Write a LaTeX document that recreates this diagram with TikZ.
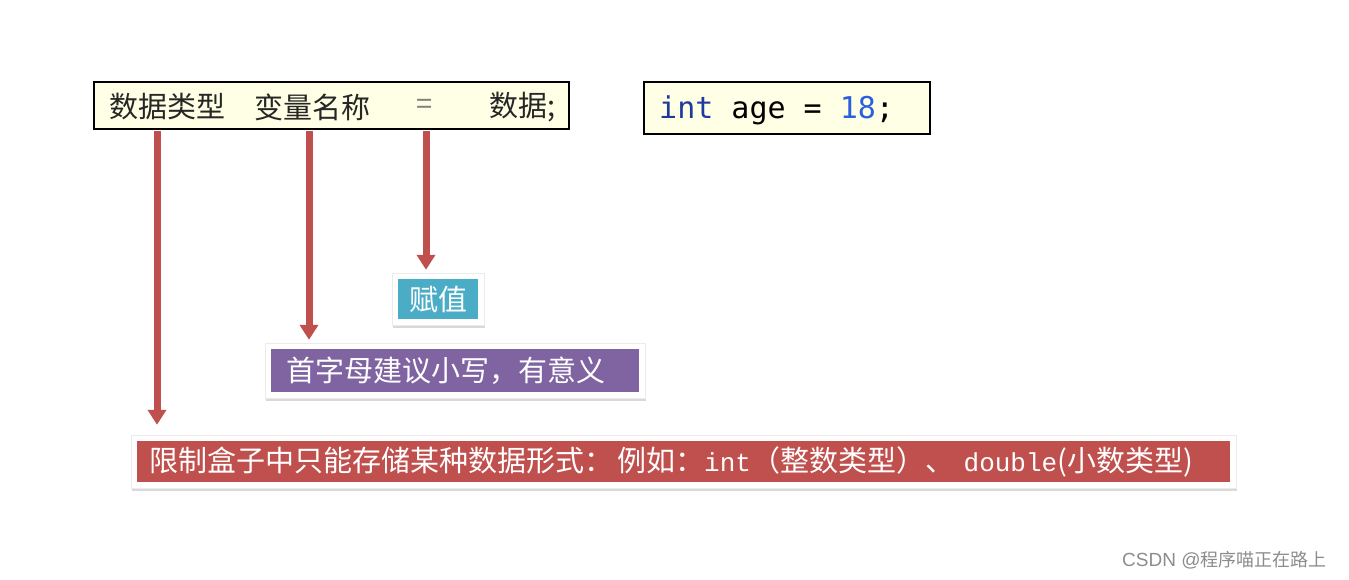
\documentclass[tikz,border=0pt]{standalone}
\usepackage{fontspec}
\setmainfont{Noto Sans CJK SC}
\newfontfamily\codefont{DejaVu Sans Mono}
\newfontfamily\latinfont{Liberation Mono}
\newfontfamily\arialfont{Liberation Sans}
\usetikzlibrary{arrows.meta,shadows,backgrounds,calc}
\definecolor{paper}{HTML}{FFFFE5}
\definecolor{arrowred}{HTML}{C0504D}
\definecolor{tagteal}{HTML}{4BACC6}
\definecolor{tagpurple}{HTML}{8064A2}
\definecolor{kwblue}{HTML}{1F3A9E}
\definecolor{numblue}{HTML}{2A5FE0}
\tikzstyle{codebox}=[draw=black, line width=2pt, fill=paper, inner sep=0pt]
\tikzstyle{word}=[font=\fontsize{29}{30}\selectfont, text=black!85, inner sep=0pt, anchor=west]
\tikzstyle{tag}=[text=white, font=\fontsize{29}{30}\selectfont, inner ysep=0pt, anchor=west, align=left]
\tikzstyle{arrow}=[draw=arrowred, line width=7pt, -{Triangle[length=15pt,width=18pt]}]
\newcommand{\lat}[1]{{\latinfont\fontsize{26}{30}\selectfont #1}}

\begin{document}
\begin{tikzpicture}[x=1pt,y=-1pt]
    \useasboundingbox (0,0) rectangle (1349,579);
    % the general form and the example
    \node[codebox, minimum width=475pt, minimum height=47pt] (syntax) at (331.5,105.5) {};
    \node[word] (dtype) at (109,107) {数据类型};
    \node[word] (vname) at (254,107) {变量名称};
    \node[word, text=black!50] (eq) at (416,107) {=};
    \node[word] (value) at (489,107) {数据;};
    \node[codebox, minimum width=286pt, minimum height=52pt] (example) at (787,108) {};
    \node[anchor=west, inner sep=0pt, font=\codefont\fontsize{30}{32}\selectfont] (code) at (659,110)
        {\textcolor{kwblue}{int} age = \textcolor{numblue}{18};};
    % the three notes
    \node[tag, fill=tagteal, inner xsep=11pt, text width=58pt, minimum height=40pt] (assign) at (398,299) {赋值};
    \node[tag, fill=tagpurple, inner xsep=15pt, text width=338pt, minimum height=43pt] (naming) at (271,370.5)
        {首字母建议小写，有意义};
    \node[tag, fill=arrowred, inner xsep=12pt, text width=1069pt, minimum height=41pt] (limit) at (137,461.5)
        {限制盒子中只能存储某种数据形式：\hspace{4pt}例如：\lat{int}（整数类型）、 \lat{double}(小数类型)};
    \begin{scope}[on background layer]
        \foreach \n in {assign, naming, limit}
            \filldraw[fill=white, draw=black!8, drop shadow={shadow xshift=0.5pt, shadow yshift=-2.5pt, opacity=.3}]
                ($(\n.north west)+(-6,-6)$) rectangle ($(\n.south east)+(6,6)$);
    \end{scope}
    % arrows
    \foreach \x/\target/\gap in {157/limit/16, 309/naming/9, 426/assign/9} {
        \coordinate (from) at (\x,0);
        \draw[arrow, shorten <=1pt, shorten >=\gap pt] (syntax.south -| from) -- (\target.north -| from);
    }
    \node[anchor=west, inner sep=0pt, text=black!45, font=\fontsize{18}{19}\selectfont] (mark) at (1122,560)
        {{\arialfont\fontsize{19}{20}\selectfont CSDN @}程序喵正在路上};
\end{tikzpicture}
\end{document}
